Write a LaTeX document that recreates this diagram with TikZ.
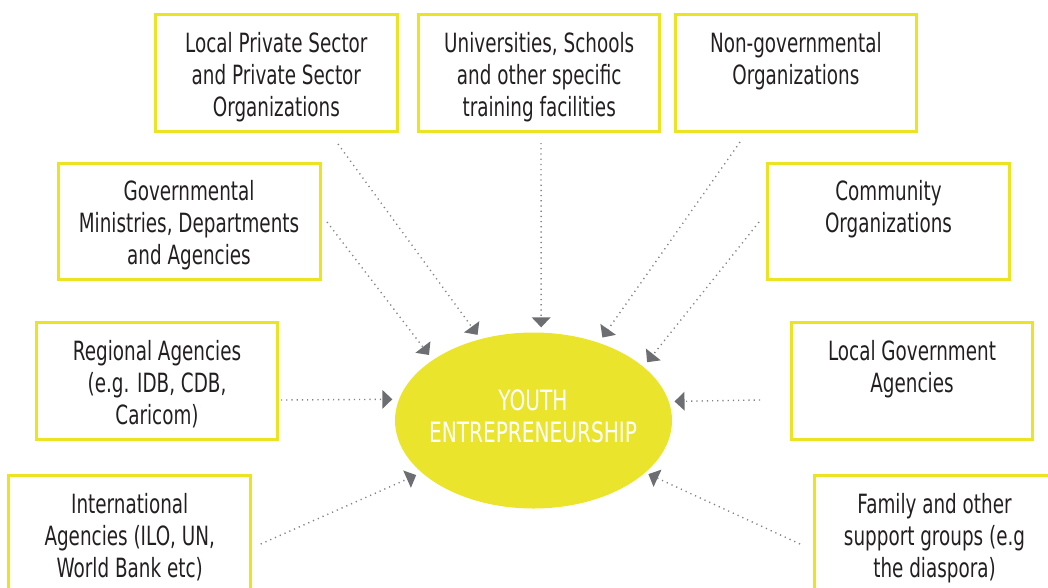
\documentclass[tikz,border=0pt]{standalone}
\usepackage{fontspec}
\usetikzlibrary{shapes.geometric,arrows.meta}
\newfontfamily\boxfont[FakeStretch=0.693]{DejaVu Sans}
\newfontfamily\ellfont[FakeStretch=0.718]{DejaVu Sans}
\definecolor{boxyellow}{RGB}{234,228,35}
\definecolor{ellyellow}{RGB}{234,229,44}
\definecolor{txtdark}{RGB}{35,31,32}
\definecolor{dotgray}{RGB}{128,130,133}
\definecolor{arrowgray}{RGB}{109,110,113}
\tikzset{
  orgbox/.style={draw=boxyellow, line width=3pt, rectangle, minimum width=241.5pt, minimum height=116.5pt, inner sep=0pt, outer sep=0pt},
  orgtxt/.style={anchor=north, align=center, inner sep=0pt, text=txtdark, font=\boxfont\fontsize{26.5}{32}\selectfont},
  conn/.style={draw=dotgray, line width=1.4pt, dash pattern=on 1.2pt off 4pt,
    -{Triangle[width=19pt,length=10pt,color=arrowgray,fill=arrowgray,line width=0pt]}}
}
\begin{document}
\begin{tikzpicture}[x=1pt,y=-1pt]
\useasboundingbox (0,0) rectangle (1048,587);
\clip (0,0) rectangle (1048,587);
% boxes
\node[orgbox] (lp) at (276.35,72.85) {};
\node[orgbox] (un) at (539.2,73) {};
\node[orgbox] (ng) at (795.8,73.2) {};
\node[orgbox, minimum width=262pt] (gv) at (189,221.7) {};
\node[orgbox] (cm) at (888.5,221.7) {};
\node[orgbox] (rg) at (157,381) {};
\node[orgbox] (lg) at (912,381) {};
\node[orgbox] (in) at (129.7,533.85) {};
\node[orgbox] (fa) at (935.2,533.85) {};
% texts
\node[orgtxt] (lpt) at ([yshift=-14.8pt]lp.north) {\strut Local Private Sector\\and Private Sector\\Organizations};
\node[orgtxt] (unt) at ([yshift=-14.8pt]un.north) {\strut Universities, Schools\\and other specific\\training facilities};
\node[orgtxt] (ngt) at ([yshift=-14.8pt]ng.north) {\strut Non-governmental\\Organizations};
\node[orgtxt] (gvt) at ([yshift=-14.8pt]gv.north) {\strut Governmental\\Ministries, Departments\\and Agencies};
\node[orgtxt] (cmt) at ([yshift=-14.8pt]cm.north) {\strut Community\\Organizations};
\node[orgtxt] (rgt) at ([yshift=-14.8pt]rg.north) {\strut Regional Agencies\\(e.g. IDB, CDB,\\Caricom)};
\node[orgtxt] (lgt) at ([yshift=-14.8pt]lg.north) {\strut Local Government\\Agencies};
\node[orgtxt] (int) at ([yshift=-14.8pt]in.north) {\strut International\\Agencies (ILO, UN,\\World Bank etc)};
\node[orgtxt] (fat) at ([yshift=-14.8pt,xshift=-0.7pt]fa.north) {\strut Family and other\\support groups (e.g\\the diaspora)};
% central ellipse
\node[ellipse, fill=ellyellow, minimum width=277pt, minimum height=176pt, inner sep=0pt, outer sep=0pt] (ell) at (533.5,420.5) {};
\node[anchor=north, align=center, inner sep=0pt, text=white, font=\ellfont\fontsize{28}{32}\selectfont] (yt) at (533,388.2) {\strut YOUTH\\ENTREPRENEURSHIP};
% connector free ends
\coordinate (s1) at (338,144);
\coordinate (s2) at (541,143);
\coordinate (s3) at (740,142);
\coordinate (s4) at (327,222);
\coordinate (s5) at (759,222);
\coordinate (s6) at (281,400);
\coordinate (s7) at (760,400);
\coordinate (s8) at (260.7,544);
\coordinate (s9) at (800,544);
% connectors
\draw[conn, shorten >=5.3pt] (s1) -- (ell.123.2);
\draw[conn, shorten >=5.3pt] (s2) -- (ell.85.1);
\draw[conn, shorten >=6.5pt] (s3) -- (ell.50.4);
\draw[conn, shorten >=6.4pt] (s4) -- (ell.149.0);
\draw[conn, shorten >=6pt] (s5) -- (ell.26.8);
\draw[conn, shorten >=6.8pt] (s6) -- (ell.171.35);
\draw[conn, shorten >=5.8pt] (s7) -- (ell.8.65);
\draw[conn, shorten >=6.2pt] (s8) -- (ell.205.6);
\draw[conn, shorten >=3.6pt] (s9) -- (ell.335.5);
\end{tikzpicture}
\end{document}
